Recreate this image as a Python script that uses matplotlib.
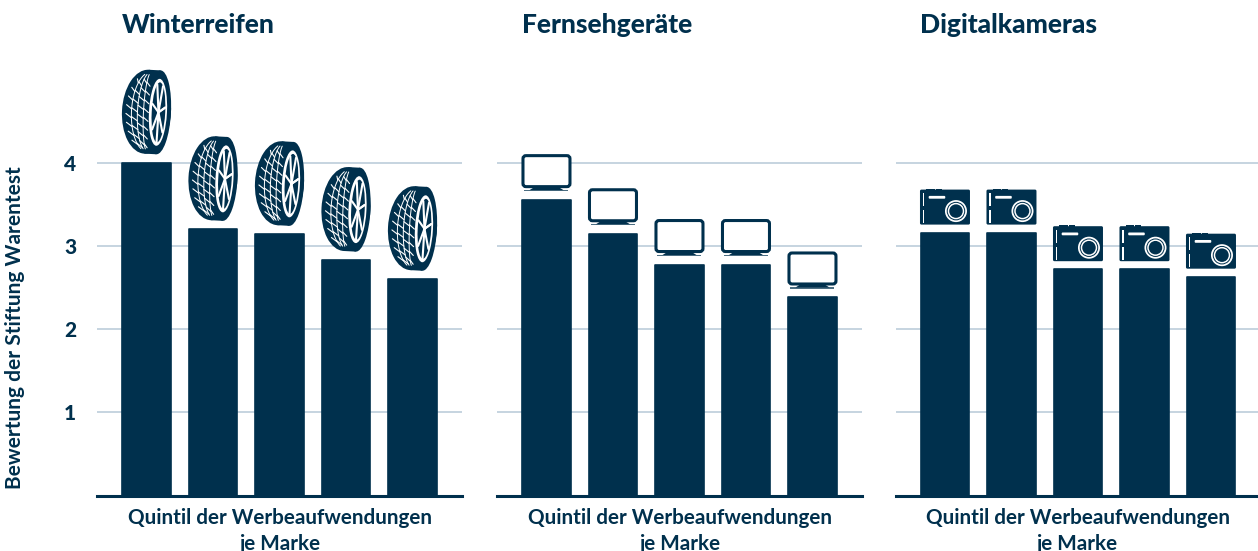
import numpy as np
import matplotlib
matplotlib.use('Agg')
import matplotlib.pyplot as plt
from matplotlib.patches import Ellipse, FancyBboxPatch, Polygon, Rectangle
from matplotlib.transforms import Affine2D

titles = ['Winterreifen', 'Fernsehgeräte', 'Digitalkameras']
quintiles = [1, 2, 3, 4, 5]
winterreifen = [4.0, 3.2, 3.14, 2.83, 2.6]
fernseher = [3.55, 3.14, 2.77, 2.77, 2.38]
kameras = [3.16, 3.16, 2.72, 2.72, 2.63]
yticks = [1, 2, 3, 4]
ylabel = 'Bewertung der Stiftung Warentest'
xlabel = 'Quintil der Werbeaufwendungen\nje Marke'

NAVY = '#00304d'
GRID = '#bccdda'
W, H = 1258, 551
plt.rcParams['font.family'] = ['Lato', 'DejaVu Sans']


def px_transform(ax, x, y):
    # icon coordinates are pixels, measured from the top centre of the bar
    return Affine2D().scale(1 / 66.5, 1 / 83.2).translate(x, y) + ax.transData


def add(ax, tr, patch):
    patch.set_transform(tr)
    patch.set_clip_on(False)
    patch.set_zorder(4)
    ax.add_patch(patch)


def line(ax, tr, xs, ys, lw=1.0, color='white'):
    ax.plot(xs, ys, transform=tr, color=color, lw=lw, clip_on=False, zorder=5,
            solid_capstyle='round')


def tyre(ax, x, y):
    cy = 51
    tr = Affine2D().rotate_deg_around(0, cy, -3) + px_transform(ax, x, y)
    add(ax, tr, Ellipse((0, cy), 49, 84, fc=NAVY, ec='none'))
    add(ax, tr, Rectangle((0, cy - 42), 12, 84, fc=NAVY, ec='none'))
    add(ax, tr, Ellipse((12, cy), 25, 84, fc=NAVY, ec='none'))

    def tread(a, u):
        return 3 - a * np.sqrt(1 - u ** 2), cy + 40 * u

    # tread: lengthwise grooves
    u = np.linspace(-0.93, 0.93, 40)
    for a in [6, 12, 18]:
        gx, gy = tread(a, u)
        line(ax, tr, gx, gy, lw=0.7)
    # tread: branches running up and outwards from each groove
    for a0, a1, shift in [(1, 6, 0), (6, 12, 0.07), (12, 18, 0), (18, 23.5, 0.07)]:
        for u0 in np.arange(-0.9, 0.85, 0.22):
            x0, y0 = tread(a0, u0 + shift)
            x1, y1 = tread(a1, u0 + shift + 0.1)
            line(ax, tr, [x0, x1], [y0, y1], lw=0.8)
    # wheel
    add(ax, tr, Ellipse((11.5, cy), 18, 67, fc='white', ec='none'))
    add(ax, tr, Ellipse((12, cy), 13.5, 60, fc=NAVY, ec='none'))
    for ang in np.arange(0, 360, 51.4):
        r = np.radians(ang + 10)
        line(ax, tr, [12, 12 + 6.7 * np.cos(r)], [cy, cy + 30 * np.sin(r)], lw=1.5)
    add(ax, tr, Ellipse((12.5, cy), 4, 9, fc=NAVY, ec='none'))


def tv(ax, x, y):
    tr = px_transform(ax, x, y)
    add(ax, tr, FancyBboxPatch((-22, 15), 44, 28,
                               boxstyle='round,pad=1.5,rounding_size=3',
                               fc='white', ec=NAVY, lw=2.2))
    add(ax, tr, Polygon([(-13, 12.5), (13, 12.5), (17, 10), (-17, 10)], fc=NAVY, ec='none'))
    add(ax, tr, Rectangle((-22, 8.8), 44, 1.4, fc=NAVY, ec='none', alpha=0.7))


def camera(ax, x, y):
    tr = px_transform(ax, x, y)
    add(ax, tr, FancyBboxPatch((-24.5, 8.5), 49, 34,
                               boxstyle='round,pad=0.5,rounding_size=1.5',
                               fc=NAVY, ec='none'))
    add(ax, tr, Rectangle((-18.5, 42.5), 8.5, 1.5, fc=NAVY, ec='none'))
    add(ax, tr, Rectangle((-9, 42.5), 6, 1.5, fc=NAVY, ec='none'))
    add(ax, tr, Rectangle((-22, 26.5), 1.4, 13, fc='white', ec='none'))
    add(ax, tr, Rectangle((-22, 9.5), 1.4, 13, fc='white', ec='none'))
    add(ax, tr, FancyBboxPatch((-16, 34.2), 16, 2.2,
                               boxstyle='round,pad=0.3,rounding_size=1',
                               fc='white', ec='none'))
    add(ax, tr, Ellipse((11, 21.5), 22, 22, fc='white', ec='none'))
    add(ax, tr, Ellipse((11, 21.5), 18.5, 18.5, fc=NAVY, ec='none'))
    add(ax, tr, Ellipse((11, 21.5), 16.5, 16.5, fc='white', ec='none'))
    add(ax, tr, Ellipse((11, 21.5), 13.5, 13.5, fc=NAVY, ec='none'))


fig = plt.figure(figsize=(W / 100, H / 100), dpi=100)
series = [winterreifen, fernseher, kameras]
icons = [tyre, tv, camera]
lefts = [97, 497, 895.5]
widths = [365, 365, 362.5]

for k in range(3):
    ax = fig.add_axes([lefts[k] / W, (H - 495.5) / H, widths[k] / W, 416 / H])
    ax.set_xlim(-0.744, widths[k] / 66.5 - 0.744)
    ax.set_ylim(0, 5)
    pos = np.arange(len(quintiles))
    ax.bar(pos, series[k], width=0.73, color=NAVY, edgecolor=NAVY, linewidth=1.2,
           joinstyle='round', zorder=3)
    for i, v in zip(pos, series[k]):
        icons[k](ax, i, v)
    ax.set_yticks(yticks)
    ax.set_xticks([])
    ax.grid(axis='y', color=GRID, lw=1.2, zorder=1)
    ax.set_axisbelow(True)
    for s in ['top', 'right', 'left']:
        ax.spines[s].set_visible(False)
    ax.spines['bottom'].set_color(NAVY)
    ax.spines['bottom'].set_linewidth(2.2)
    ax.tick_params(axis='y', length=0, pad=15)
    if k == 0:
        ax.set_yticklabels(yticks, fontsize=15, fontweight='black', color=NAVY)
    else:
        ax.set_yticklabels([])
    fig.text((lefts[k] + 24.5) / W, (H - 25) / H, titles[k], fontsize=19,
             fontweight='black', color=NAVY, va='center', ha='left')
    fig.text((lefts[k] + widths[k] / 2 + 1) / W, (H - 508) / H, xlabel, fontsize=14.9,
             fontweight='bold', color=NAVY, va='top', ha='center', linespacing=1.38)

fig.text(15 / W, (H - 328) / H, ylabel, rotation=90, fontsize=15, fontweight='bold',
         color=NAVY, va='center', ha='center')
fig.savefig('out.png', dpi=100)
